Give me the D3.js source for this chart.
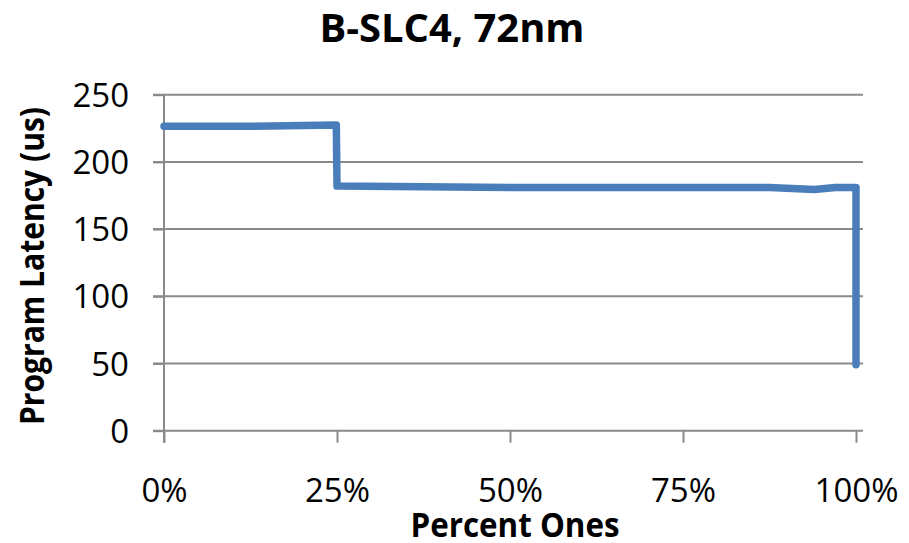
<!DOCTYPE html>
<html>
<head>
<meta charset="utf-8">
<script src="https://cdn.jsdelivr.net/npm/d3@7"></script>
<style>
  body { margin: 0; background: #fff; }
  text { font-family: "Open Sans", "Noto Sans", sans-serif; fill: #000; }
</style>
</head>
<body>
<script>
// data
var pctOnes = [0, 0.125, 0.249, 0.25, 0.375, 0.5, 0.625, 0.75, 0.875, 0.94, 0.97, 1, 1];
var latency = [226.5, 226.5, 227.5, 182, 181.5, 181, 181, 181, 181, 179.5, 181, 181, 49];
var yTicks = [0, 50, 100, 150, 200, 250];
var xTicks = [0, 0.25, 0.5, 0.75, 1];

var width = 909, height = 543;
var plotLeft = 164, plotRight = 856, frameRight = 863;
var plotTop = 94.7, plotBottom = 430.7;

var svg = d3.select("body")
  .append("svg")
  .attr("width", width)
  .attr("height", height);

var x = d3.scaleLinear().domain([0, 1]).range([plotLeft, plotRight]);
var y = d3.scaleLinear().domain([0, 250]).range([plotBottom, plotTop]);

// gridlines
svg.append("g")
  .selectAll("line")
  .data(yTicks.slice(1))
  .enter()
  .append("line")
  .attr("x1", plotLeft - 11)
  .attr("x2", frameRight)
  .attr("y1", function(d) { return y(d); })
  .attr("y2", function(d) { return y(d); })
  .attr("stroke", "#8a8a8a")
  .attr("stroke-width", 2);

// y axis
var yAxisCall = d3.axisLeft(y)
  .tickValues(yTicks)
  .tickSize(11)
  .tickPadding(24)
  .tickSizeOuter(0);

var yAxis = svg.append("g")
  .attr("class", "y axis")
  .attr("transform", "translate(" + plotLeft + ",0)")
  .call(yAxisCall);

yAxis.select(".domain").remove();
yAxis.selectAll("line").attr("stroke", "#8a8a8a").attr("stroke-width", 2);
yAxis.selectAll("text")
  .attr("font-size", "33px")
  .attr("dy", "0.35em")
  .attr("font-family", "Open Sans");

svg.append("line")
  .attr("x1", plotLeft).attr("x2", plotLeft)
  .attr("y1", plotTop).attr("y2", plotBottom + 12)
  .attr("stroke", "#8a8a8a")
  .attr("stroke-width", 2);

// x axis
var xAxisCall = d3.axisBottom(x)
  .tickValues(xTicks)
  .tickSize(12)
  .tickPadding(36)
  .tickSizeOuter(0)
  .tickFormat(d3.format(".0%"));

var xAxis = svg.append("g")
  .attr("class", "x axis")
  .attr("transform", "translate(0," + plotBottom + ")")
  .call(xAxisCall);

xAxis.select(".domain").remove();
xAxis.selectAll("line").attr("stroke", "#8a8a8a").attr("stroke-width", 2);
xAxis.selectAll("text")
  .attr("font-size", "33px")
  .attr("font-family", "Open Sans");

svg.append("line")
  .attr("x1", plotLeft - 11).attr("x2", frameRight)
  .attr("y1", plotBottom).attr("y2", plotBottom)
  .attr("stroke", "#8a8a8a")
  .attr("stroke-width", 2);

// the series
var line = d3.line()
  .x(function(d, i) { return x(pctOnes[i]); })
  .y(function(d) { return y(d); });

svg.append("path")
  .datum(latency)
  .attr("d", line)
  .attr("fill", "none")
  .attr("stroke", "#4a7ebb")
  .attr("stroke-width", 7.5)
  .attr("stroke-linejoin", "round")
  .attr("stroke-linecap", "round");

// titles
svg.append("text")
  .attr("x", 452)
  .attr("y", 42)
  .attr("text-anchor", "middle")
  .attr("font-size", "39px")
  .attr("font-weight", "bold")
  .attr("textLength", 265)
  .attr("lengthAdjust", "spacingAndGlyphs")
  .text("B-SLC4, 72nm");

svg.append("text")
  .attr("x", 515)
  .attr("y", 537)
  .attr("text-anchor", "middle")
  .attr("font-size", "34px")
  .attr("font-weight", "bold")
  .attr("textLength", 209)
  .attr("lengthAdjust", "spacingAndGlyphs")
  .text("Percent Ones");

svg.append("text")
  .attr("transform", "translate(44,266) rotate(-90)")
  .attr("text-anchor", "middle")
  .attr("font-size", "34px")
  .attr("font-weight", "bold")
  .attr("textLength", 318)
  .attr("lengthAdjust", "spacingAndGlyphs")
  .text("Program Latency (us)");
</script>
</body>
</html>
